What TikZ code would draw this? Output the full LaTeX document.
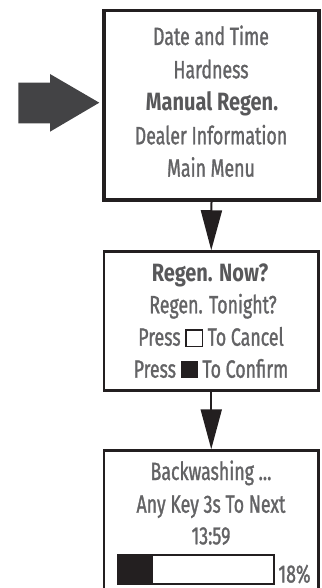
\documentclass[tikz,border=0pt]{standalone}
\usepackage{fontspec}
\setmainfont{Fira Sans}[UprightFeatures={FakeStretch=0.71, FakeBold=1.2}, BoldFeatures={FakeStretch=0.80}]
\usetikzlibrary{arrows.meta}
\definecolor{textgray}{HTML}{636365}
\definecolor{boldgray}{HTML}{58585A}
\definecolor{linedark}{HTML}{231F20}
\definecolor{arrowgray}{HTML}{434345}
\begin{document}
\begin{tikzpicture}[x=1pt,y=-1pt,
  txt/.style={anchor=base, inner sep=0pt, outer sep=0pt, font=\fontsize{25}{30}\selectfont, text=textgray},
  btxt/.style={txt, font=\fontsize{25}{30}\selectfont\bfseries, text=boldgray},
  screen/.style={draw=linedark, line width=2.5pt, inner sep=0pt, minimum width=214.5pt},
  conn/.style={draw=linedark, line width=2pt, -{Triangle[length=40pt,width=21pt]}}]
\useasboundingbox (0,0) rectangle (321,588);
\begin{scope}
\clip (0,0) rectangle (321,588);
% big arrow
\fill[arrowgray] (18.3,82.7) -- (50,82.7) -- (50,74) -- (99.3,102.7) -- (50,131.7) -- (50,123.3) -- (18.3,123.3) -- cycle;
% screens
\node[screen, line width=3.5pt, minimum width=215pt, minimum height=189.5pt] (s1) at (211.5,105.25) {};
\node[screen, minimum height=139pt] (s2) at (211.25,321) {};
\node[screen, minimum height=150pt] (s3) at (211.25,525.5) {};
% progress bar
\fill[linedark] (117.5,554.5) rectangle (153,583.5);
\draw[linedark, line width=2pt] (117.5,554.5) rectangle (273.5,583.5);
\end{scope}
% texts box 1
\node[txt] (t11) at (211,45) {Date and Time};
\node[txt] (t12) at (211,78.3) {Hardness};
\node[btxt] (t13) at (212,111) {Manual Regen.};
\node[txt] (t14) at (211,144.3) {Dealer Information};
\node[txt] (t15) at (211,176.7) {Main Menu};
% texts box 2
\node[btxt] (t21) at (210,281.7) {Regen. Now?};
\node[txt] (t22) at (213,313.3) {Regen. Tonight?};
\node[txt] (t23) at (211,345.7) {Press {\color{linedark}\setlength{\fboxsep}{0pt}\setlength{\fboxrule}{1.3pt}\fbox{\rule{0pt}{15pt}\hspace{15pt}}} To Cancel};
\node[txt] (t24) at (211,377.7) {Press {\color{linedark}\rule{17pt}{17pt}} To Confirm};
% texts box 3
\node[txt] (t31) at (211,480) {Backwashing ...};
\node[txt] (t32) at (211,512.7) {Any Key 3s To Next};
\node[txt] (t33) at (211,544.3) {13:59};
\node[txt, anchor=base west] (pct) at (278.5,582.5) {18\%};
% connectors
\draw[conn] (s1.south) -- (s2.north);
\draw[conn] (s2.south) -- (s3.north);
\end{tikzpicture}
\end{document}
